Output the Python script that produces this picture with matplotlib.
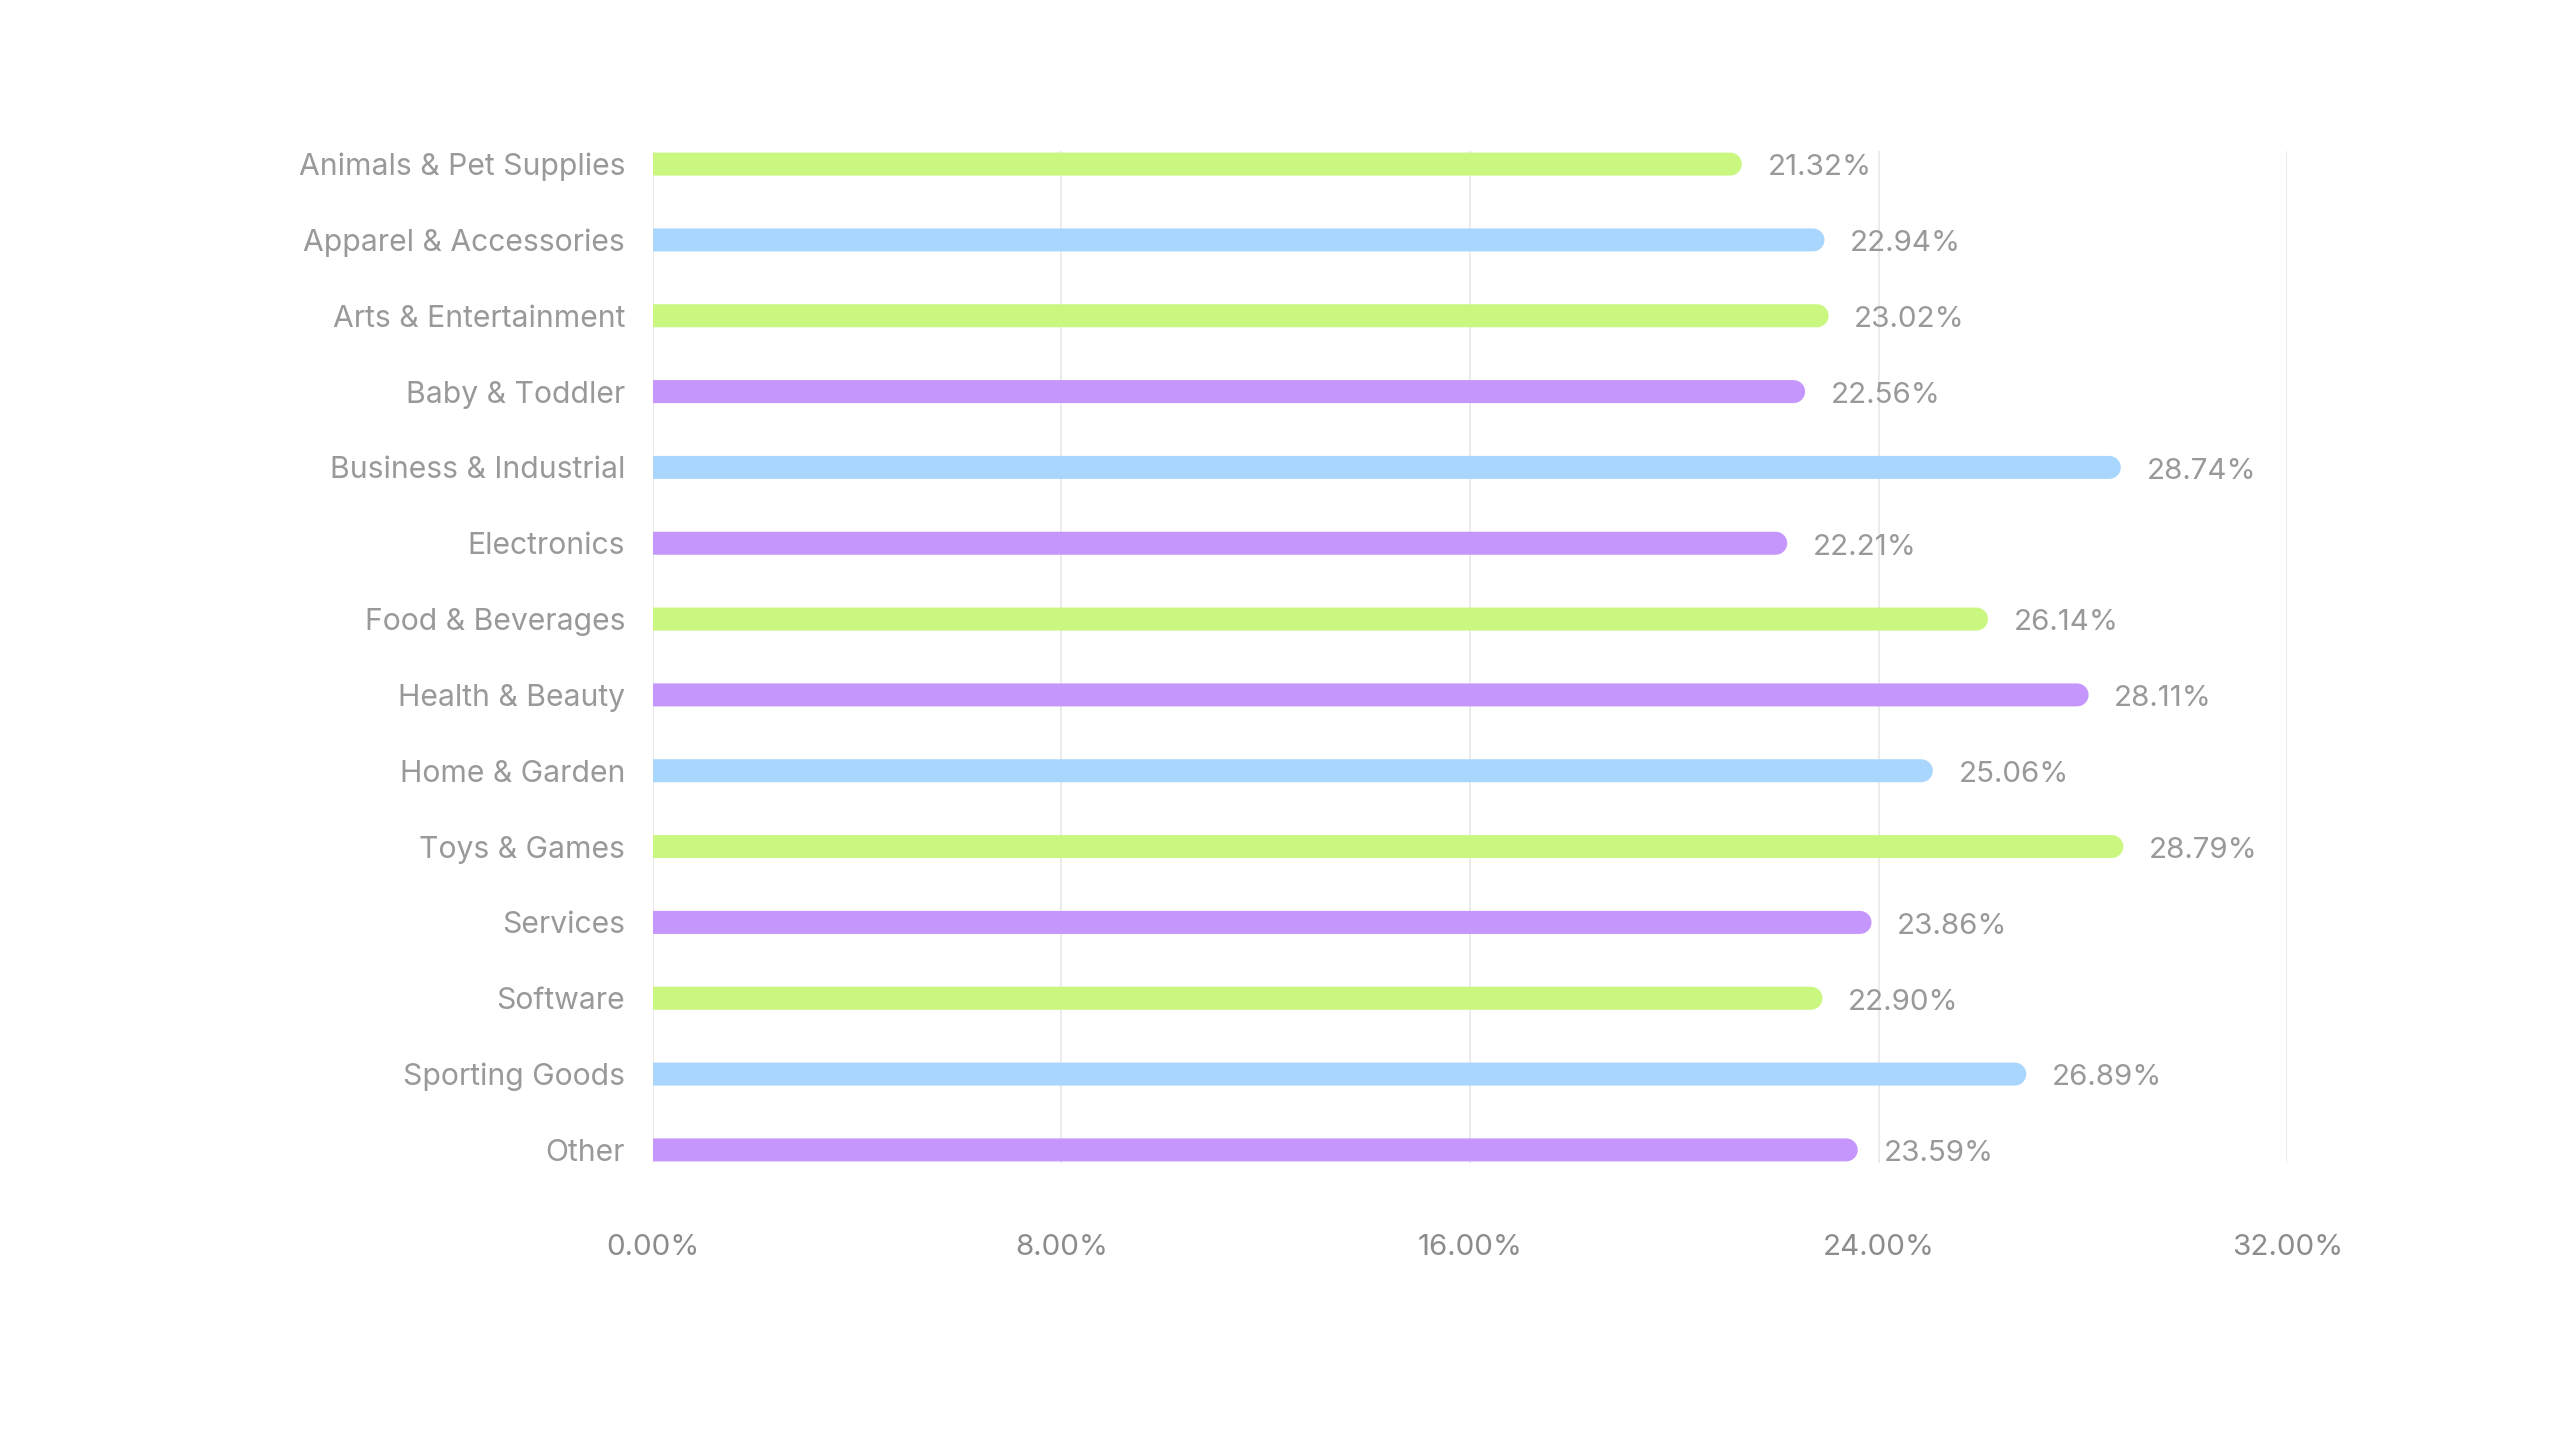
import matplotlib.pyplot as plt
import numpy as np
from matplotlib.ticker import FuncFormatter

plt.rcParams['font.family'] = ['Inter', 'DejaVu Sans']

categories = ['Animals & Pet Supplies', 'Apparel & Accessories', 'Arts & Entertainment',
              'Baby & Toddler', 'Business & Industrial', 'Electronics', 'Food & Beverages',
              'Health & Beauty', 'Home & Garden', 'Toys & Games', 'Services', 'Software',
              'Sporting Goods', 'Other']
values = [21.32, 22.94, 23.02, 22.56, 28.74, 22.21, 26.14, 28.11, 25.06, 28.79,
          23.86, 22.90, 26.89, 23.59]
color_keys = ['g', 'b', 'g', 'p', 'b', 'p', 'g', 'p', 'b', 'g', 'p', 'g', 'b', 'p']
xticks = [0, 8, 16, 24, 32]

palette = {'g': '#c9f77f', 'b': '#a9d6fd', 'p': '#c596fb'}

W, H, DPI = 25.6, 14.4, 100
ax_rect = [0.2550, 0.1925, 0.6385, 0.7025]
fig = plt.figure(figsize=(W, H), dpi=DPI)
ax = fig.add_axes(ax_rect)

xmax = 32
ax.set_xlim(0, xmax)
n = len(categories)
ypad = 0.17
ax.set_ylim(n - 1 + ypad, -ypad)

# bar thickness in pixels -> line width in points, cap radius in data units
bar_h_px = 23
axes_w_px = ax_rect[2] * W * DPI
r_data = (bar_h_px / 2) / axes_w_px * xmax
lw_pt = bar_h_px * 72 / DPI

y = np.arange(n)
for i, (v, k) in enumerate(zip(values, color_keys)):
    c = palette[k]
    # round caps; the left one falls outside the axes and gets clipped
    ax.plot([0, v - r_data], [i, i], color=c, lw=lw_pt,
            solid_capstyle='round', snap=False, zorder=3)
    ax.text(v + 0.5, i + 0.05, f'{v:.2f}%', va='center', ha='left',
            fontsize=21.3, color='#999999')

ax.set_yticks(y)
ax.set_yticklabels(categories, fontsize=21.7, color='#999999')
ax.set_xticks(xticks)
ax.xaxis.set_major_formatter(FuncFormatter(lambda x, p: f'{x:.2f}%'))
ax.tick_params(axis='x', labelsize=21.3, labelcolor='#8c8c8c', length=0, pad=51)
ax.tick_params(axis='y', length=0, pad=20)

ax.grid(axis='x', color='#e8e8e8', lw=1.2, zorder=0)
ax.set_axisbelow(True)
for s in ax.spines.values():
    s.set_visible(False)

fig.savefig('out.png', dpi=DPI)
